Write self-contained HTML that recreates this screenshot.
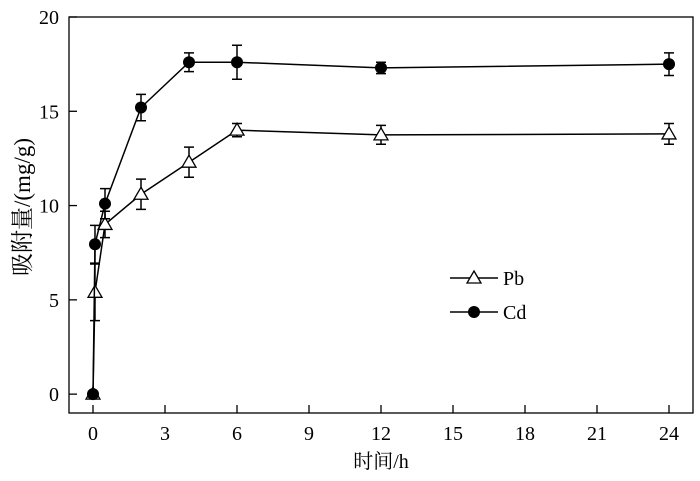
<!DOCTYPE html>
<html><head><meta charset="utf-8"><style>
body{margin:0;background:#fff}
svg text{font-family:"Liberation Serif","Noto Serif CJK SC",serif;fill:#000}
</style></head><body>
<svg id="c" width="700" height="476"></svg>
<script>
const times=[0,0.083,0.5,2,4,6,12,24];
const pbValues=[0,5.4,9.0,10.6,12.3,14.0,13.75,13.8];
const pbErrors=[0,1.5,0.7,0.8,0.8,0.35,0.5,0.55];
const cdValues=[0,7.95,10.1,15.2,17.6,17.6,17.3,17.5];
const cdErrors=[0,1.0,0.8,0.7,0.5,0.9,0.3,0.6];
const xTicks=[0,3,6,9,12,15,18,21,24];
const yTicks=[0,5,10,15,20];
const L=69,R=693,T=17,B=413;
const sx=v=>L+(v+1)/26*(R-L);
const sy=v=>B-(v+1)/21*(B-T);
const svg=document.getElementById('c');
const NS='http://www.w3.org/2000/svg';
function mk(tag,attrs,parent){const e=document.createElementNS(NS,tag);for(const k in attrs)e.setAttribute(k,attrs[k]);(parent||svg).appendChild(e);return e;}
let e;
e=mk('rect',{x:L,y:T,width:R-L,height:B-T,fill:'none',stroke:'#000','stroke-width':1.3});


xTicks.forEach(t=>{
 e=mk('line',{x1:sx(t),x2:sx(t),y1:B,y2:B-8,stroke:'#000','stroke-width':1.3});
 
 
 e=mk('text',{x:sx(t),y:B+27,'text-anchor':'middle','font-size':20});e.textContent=t;
 
 
});
yTicks.forEach(t=>{
 e=mk('line',{x1:L,x2:L+8,y1:sy(t),y2:sy(t),stroke:'#000','stroke-width':1.3});
 
 
 e=mk('text',{x:L-10,y:sy(t)+7,'text-anchor':'end','font-size':20});e.textContent=t;
 
 
});
e=mk('text',{x:381,y:468,'text-anchor':'middle','font-size':20});e.textContent='时间/h';


e=mk('text',{x:0,y:0,'text-anchor':'middle','font-size':23,transform:'translate(30,207) rotate(-90)'});e.textContent='吸附量/(mg/g)';


function tri(x,y,p,name){e=mk('path',{d:`M${x},${y-7}L${x+7},${y+5}L${x-7},${y+5}Z`,fill:'#fff',stroke:'#000','stroke-width':1.3},p);}
function dot(x,y,p,name){e=mk('circle',{cx:x,cy:y,r:6,fill:'#000'},p);}
function series(vals,errs,marker,name){
 const g=mk('g',{});
 
 
 e=mk('polyline',{points:vals.map((v,i)=>sx(times[i])+','+sy(v)).join(' '),fill:'none',stroke:'#000','stroke-width':1.5},g);
 
 
 vals.forEach((v,i)=>{
  if(errs[i]>0){const x=sx(times[i]),y1=sy(v+errs[i]),y2=sy(v-errs[i]);
   e=mk('path',{d:`M${x},${y1}V${y2}M${x-5},${y1}H${x+5}M${x-5},${y2}H${x+5}`,stroke:'#000','stroke-width':1.5,fill:'none'},g);
   
   }
 });
 vals.forEach((v,i)=>marker(sx(times[i]),sy(v),g,name+'-point'));
}
series(pbValues,pbErrors,tri,'pb');
series(cdValues,cdErrors,dot,'cd');
const lg=mk('g',{});


e=mk('line',{x1:450,x2:498,y1:278,y2:278,stroke:'#000','stroke-width':1.5},lg);


tri(474,278,lg,'legend-pb-marker');
e=mk('text',{x:503,y:285,'font-size':20},lg);e.textContent='Pb';


e=mk('line',{x1:450,x2:498,y1:312,y2:312,stroke:'#000','stroke-width':1.5},lg);


dot(474,312,lg,'legend-cd-marker');
e=mk('text',{x:503,y:319,'font-size':20},lg);e.textContent='Cd';


</script>
</body></html>
